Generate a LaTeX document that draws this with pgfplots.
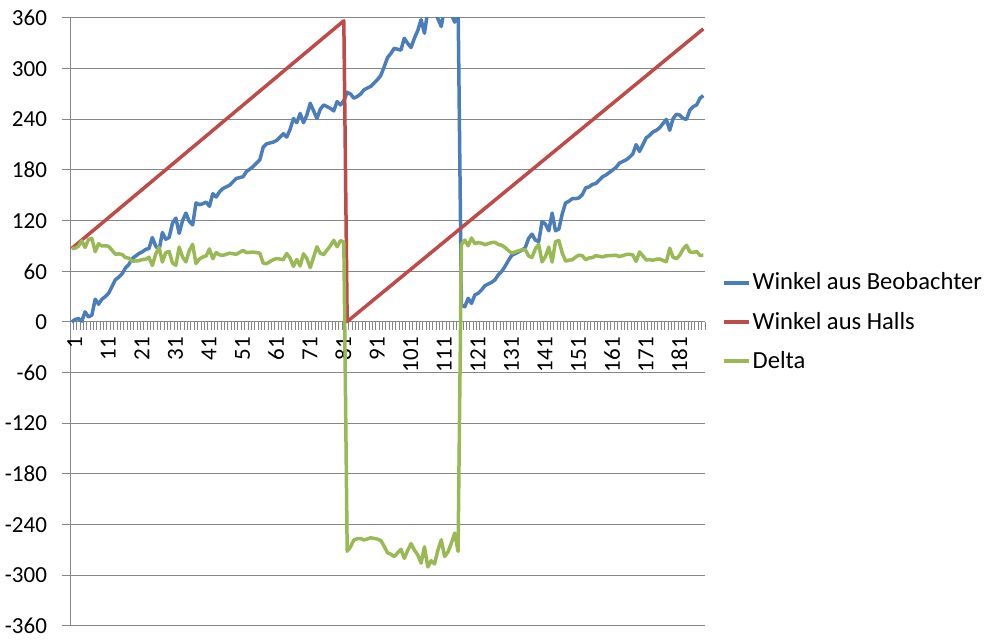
\documentclass[border=0pt]{standalone}
\usepackage{fontspec}
\setmainfont{Carlito}
\usepackage{pgfplots}
\usepackage{pgfplotstable}
\pgfplotsset{compat=1.18}
\definecolor{cblue}{HTML}{4A7EBB}
\definecolor{cred}{HTML}{BE4B48}
\definecolor{cgreen}{HTML}{98B954}
\definecolor{cgrid}{HTML}{868686}
\pgfplotstableread{
i b r d
1 0 87.0 87.0
2 3 90.3 87.3
3 4 93.7 89.7
4 1 97.0 96.0
5 12 100.3 88.3
6 6 103.7 97.7
7 8 107.0 99.0
8 27 110.3 83.3
9 21 113.6 92.6
10 27 117.0 90.0
11 30 120.3 90.3
12 34 123.6 89.6
13 42 127.0 85.0
14 50 130.3 80.3
15 53 133.6 80.6
16 57 137.0 80.0
17 64 140.3 76.3
18 68 143.6 75.6
19 75 146.9 71.9
20 78 150.3 72.3
21 81 153.6 72.6
22 83 156.9 73.9
23 86 160.3 74.3
24 87 163.6 76.6
25 100 166.9 66.9
26 90 170.3 80.3
27 85 173.6 88.6
28 106 176.9 70.9
29 98 180.2 82.2
30 100 183.6 83.6
31 117 186.9 69.9
32 123 190.2 67.2
33 105 193.6 88.6
34 120 196.9 76.9
35 129 200.2 71.2
36 119 203.6 84.6
37 115 206.9 91.9
38 141 210.2 69.2
39 139 213.5 74.5
40 140 216.9 76.9
41 142 220.2 78.2
42 137 223.5 86.5
43 152 226.9 74.9
44 148 230.2 82.2
45 154 233.5 79.5
46 158 236.9 78.9
47 160 240.2 80.2
48 162 243.5 81.5
49 166 246.8 80.8
50 170 250.2 80.2
51 171 253.5 82.5
52 172 256.8 84.8
53 178 260.2 82.2
54 181 263.5 82.5
55 184 266.8 82.8
56 188 270.2 82.2
57 192 273.5 81.5
58 207 276.8 69.8
59 211 280.1 69.1
60 212 283.5 71.5
61 213 286.8 73.8
62 215 290.1 75.1
63 219 293.5 74.5
64 223 296.8 73.8
65 219 300.1 81.1
66 228 303.5 75.5
67 241 306.8 65.8
68 236 310.1 74.1
69 247 313.4 66.4
70 236 316.8 80.8
71 245 320.1 75.1
72 259 323.4 64.4
73 250 326.8 76.8
74 241 330.1 89.1
75 252 333.4 81.4
76 257 336.8 79.8
77 255 340.1 85.1
78 253 343.4 90.4
79 250 346.7 96.7
80 261 350.1 89.1
81 257 353.4 96.4
82 262 356.7 94.7
83 272 0.5 -271.5
84 270 3.8 -266.2
85 265 7.0 -258.0
86 267 10.3 -256.7
87 270 13.6 -256.4
88 275 16.9 -258.1
89 277 20.1 -256.9
90 279 23.4 -255.6
91 283 26.7 -256.3
92 287 29.9 -257.1
93 292 33.2 -258.8
94 302 36.5 -265.5
95 313 39.7 -273.3
96 318 43.0 -275.0
97 324 46.3 -277.7
98 323 49.6 -273.4
99 322 52.8 -269.2
100 336 56.1 -279.9
101 330 59.4 -270.6
102 325 62.6 -262.4
103 336 65.9 -270.1
104 345 69.2 -275.8
105 358 72.4 -285.6
106 342 75.7 -266.3
107 369 79.0 -290.0
108 365 82.3 -282.7
109 372 85.5 -286.5
110 359 88.8 -270.2
111 350 92.1 -257.9
112 373 95.3 -277.7
113 371 98.6 -272.4
114 364 101.9 -262.1
115 355 105.1 -249.9
116 380 108.4 -271.6
117 20 111.7 91.7
118 18 115.0 97.0
119 28 118.2 90.2
120 22 121.5 99.5
121 32 124.8 92.8
122 34 128.0 94.0
123 38 131.3 93.3
124 43 134.6 91.6
125 45 137.8 92.8
126 47 141.1 94.1
127 50 144.4 94.4
128 56 147.7 91.7
129 60 150.9 90.9
130 66 154.2 88.2
131 73 157.5 84.5
132 79 160.7 81.7
133 81 164.0 83.0
134 83 167.3 84.3
135 85 170.5 85.5
136 88 173.8 85.8
137 99 177.1 78.1
138 104 180.4 76.4
139 97 183.6 86.6
140 95 186.9 91.9
141 119 190.2 71.2
142 116 193.4 77.4
143 108 196.7 88.7
144 129 200.0 71.0
145 108 203.2 95.2
146 110 206.5 96.5
147 128 209.8 81.8
148 141 213.1 72.1
149 143 216.3 73.3
150 146 219.6 73.6
151 146 222.9 76.9
152 147 226.1 79.1
153 151 229.4 78.4
154 159 232.7 73.7
155 160 235.9 75.9
156 163 239.2 76.2
157 164 242.5 78.5
158 168 245.8 77.8
159 172 249.0 77.0
160 174 252.3 78.3
161 177 255.6 78.6
162 180 258.8 78.8
163 183 262.1 79.1
164 188 265.4 77.4
165 190 268.6 78.6
166 192 271.9 79.9
167 195 275.2 80.2
168 199 278.5 79.5
169 210 281.7 71.7
170 202 285.0 83.0
171 210 288.3 78.3
172 218 291.5 73.5
173 221 294.8 73.8
174 225 298.1 73.1
175 227 301.3 74.3
176 230 304.6 74.6
177 235 307.9 72.9
178 240 311.2 71.2
179 227 314.4 87.4
180 241 317.7 76.7
181 246 321.0 75.0
182 245 324.2 79.2
183 241 327.5 86.5
184 240 330.8 90.8
185 251 334.0 83.0
186 255 337.3 82.3
187 257 340.6 83.6
188 265 343.9 78.9
189 268 347.1 79.1
}\data
\begin{document}
\begin{tikzpicture}
\begin{axis}[name=ax,
  scale only axis, width=317.5pt, height=304pt,
  xmin=0.5, xmax=189.5, ymin=-360, ymax=360,
  axis x line=middle, axis y line=left,
  axis line style={cgrid, line width=0.5pt, -},
  ytick={-360,-300,...,360},
  yticklabels={-360,-300,-240,-180,-120,-60,0,60,120,180,240,300,360},
  ymajorgrids, grid style={cgrid, line width=0.5pt},
  xtick={1,11,...,181},
  xticklabels={1,11,21,31,41,51,61,71,81,91,101,111,121,131,141,151,161,171,181},
  minor xtick={0.5,1.5,...,189.5},
  tick align=outside,
  major tick length=4pt, minor tick length=4pt,
  major x tick style={draw=none},
  minor x tick style={cgrid, line width=0.5pt},
  y tick style={cgrid, line width=0.5pt},
  tick label style={font=\fontsize{11.5}{13}\selectfont, black},
  yticklabel style={xshift=-4pt},
  xticklabel style={rotate=90, anchor=east, yshift=-1.5pt},
  clip=true,
  legend style={at={(1.017,0.5)}, anchor=west, draw=none, fill=none,
    font=\fontsize{12.3}{14}\selectfont, row sep=7.5pt,
    nodes={inner sep=1pt}},
  legend cell align=left,
  legend image code/.code={\draw[#1] (0pt,0pt) -- (12.5pt,0pt);},
]
\addplot[cblue, line width=1.75pt, line join=round] table[x=i,y=b]{\data};
\addlegendentry{Winkel aus Beobachter}
\addplot[cred, line width=1.75pt, line join=round] table[x=i,y=r]{\data};
\addlegendentry{Winkel aus Halls}
\addplot[cgreen, line width=1.75pt, line join=round] table[x=i,y=d]{\data};
\addlegendentry{Delta}
\end{axis}
\pgfresetboundingbox
\path[use as bounding box] ([shift={(-35pt,-8.5pt)}]ax.south west) rectangle ([shift={(144pt,9pt)}]ax.north east);
\end{tikzpicture}
\end{document}
